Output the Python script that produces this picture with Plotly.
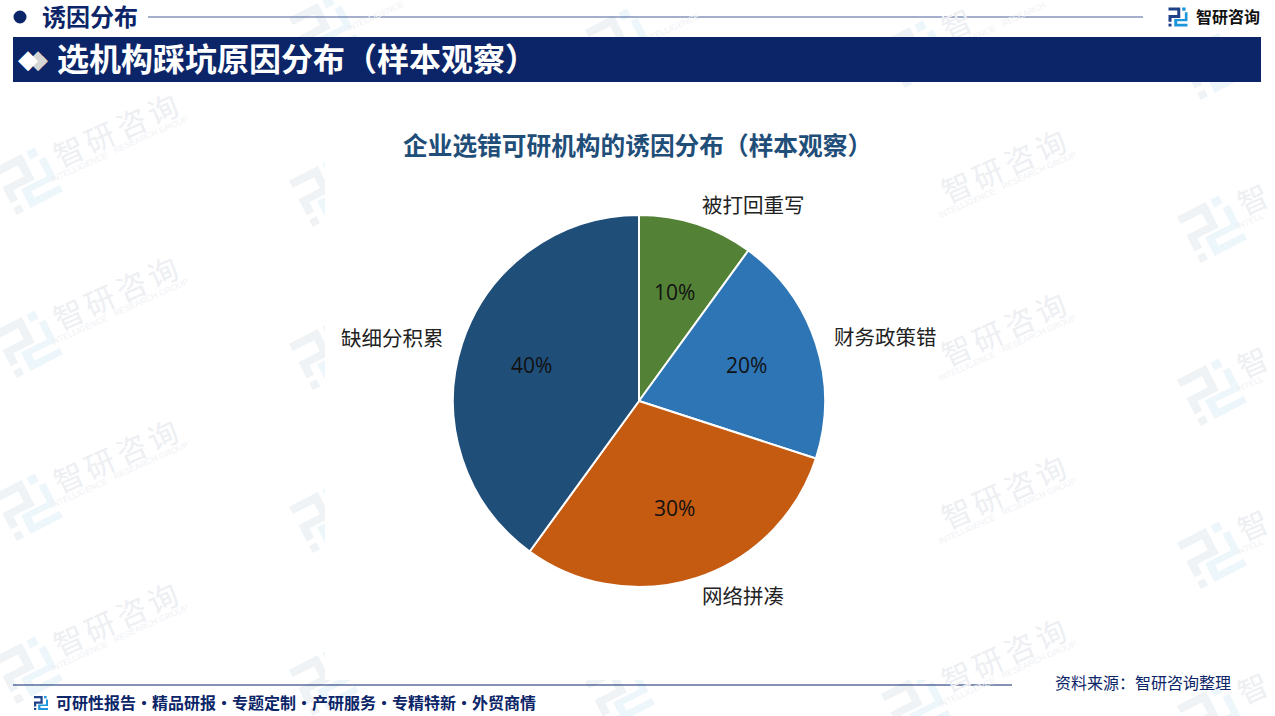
import math
import plotly.graph_objects as go

categories = ["被打回重写", "财务政策错", "网络拼凑", "缺细分积累"]
shares = [10, 20, 30, 40]
slice_colors = ["#538135", "#2E75B6", "#C55A11", "#1F4E79"]
footer_items = ["可研性报告", "精品研报", "专题定制", "产研服务", "专精特新", "外贸商情"]

W = 1275
H = 716
NAVY = "#0B2568"
CJK = "Noto Sans CJK SC"

# pie geometry in pixels
PIE_CX = 639
PIE_CY = 401
PIE_R = 186
PCT_RADIUS = 0.61

# pixel centres of the outer labels, same order as categories
outer_label_xy = [(753, 204), (885, 336), (743, 595), (392, 337)]

# watermark tile grid
TILE_X0 = 28
TILE_Y0 = 17
TILE_DX = 296
TILE_SKEW = 12
TILE_DY = 163
TILT = -27
TEXT_TILT = -24

# logo polygons in a unit box, dark part then light part
logo_dark = [
    [(0, 0), (0.62, 0), (0.62, 0.55), (0.16, 0.55), (0.16, 0.75), (0, 0.75), (0, 0.4), (0.46, 0.4), (0.46, 0.16), (0, 0.16)],
    [(0, 0.85), (0.16, 0.85), (0.16, 1), (0, 1)],
]
logo_light = [
    [(0.72, 0), (0.9, 0), (0.9, 0.17), (0.72, 0.17)],
    [(0.86, 0.25), (1, 0.25), (1, 0.72), (0.46, 0.72), (0.46, 0.86), (1, 0.86), (1, 1), (0.3, 1), (0.3, 0.6), (0.86, 0.6)],
]


def px(x):
    return x / W


def py(y):
    return 1 - y / H


def poly_path(points, cx, cy, size, angle):
    a = math.radians(angle)
    out = []
    for ux, uy in points:
        dx = (ux - 0.5) * size
        dy = (uy - 0.5) * size
        out.append((cx + dx * math.cos(a) - dy * math.sin(a), cy + dx * math.sin(a) + dy * math.cos(a)))
    return "M" + "L".join(f"{px(x):.5f},{py(y):.5f}" for x, y in out) + "Z"


def logo_shapes(cx, cy, size, angle, dark, light, layer):
    shapes = []
    for polys, color in ((logo_dark, dark), (logo_light, light)):
        for p in polys:
            shapes.append(dict(type="path", xref="paper", yref="paper", path=poly_path(p, cx, cy, size, angle),
                               fillcolor=color, line_width=0, layer=layer))
    return shapes


def box(x0, y0, x1, y1, color, layer="below"):
    return dict(type="rect", xref="paper", yref="paper", x0=px(x0), x1=px(x1), y0=py(y0), y1=py(y1),
                fillcolor=color, line_width=0, layer=layer)


def label(x, y, text, size, color, bold=False, anchor="center", angle=0, family=CJK):
    if bold:
        text = f"<b>{text}</b>"
    return dict(xref="paper", yref="paper", x=px(x), y=py(y), text=text, showarrow=False, xanchor=anchor,
                yanchor="middle", textangle=angle, font=dict(family=family, size=size, color=color))


def visible(x, y, half):
    # annotations sit on top of everything, so drop the pieces the panel or page edge would hide
    if x - half < 0 or x + half > W or y - half < 0 or y + half > H:
        return False
    if y + half > 50 and y - half < 70:
        return False
    if 325 - half < x < 945 and 118 - half < y < 680 + half:
        return False
    if x > 1150 and y < 37:
        return False
    return True


shapes = []
annotations = []

# watermark tiles
a = math.radians(TEXT_TILT)
for col in range(5):
    for row in range(6):
        if col == 0 and row == 0:
            continue
        lx = TILE_X0 + col * TILE_DX
        ly = TILE_Y0 + col * TILE_SKEW + row * TILE_DY
        shapes += logo_shapes(lx, ly, 52, TILT, "#F0F3F6", "#EDF6FB", "below")
        for i, ch in enumerate("智研咨询"):
            x = lx + 87 + (i - 1.5) * 34 * math.cos(a)
            y = ly - 51 + (i - 1.5) * 34 * math.sin(a)
            if visible(x, y, 14):
                annotations.append(label(x, y, ch, 30, "#EDEFF3", angle=TEXT_TILT))
        # the last column runs off the page, so it only shows the start of the line
        words = ((-63, "INTELL"),) if col == 4 else ((-48, "INTELLIGENCE"), (14, "RESEARCH"), (56, "GROUP"))
        for offset, word in words:
            x = lx + 95 + offset * math.cos(a)
            y = ly - 33 + offset * math.sin(a)
            if visible(x, y, 10):
                annotations.append(label(x, y, word, 8.5, "#F0F2F5", angle=TEXT_TILT, family="Liberation Sans"))

# white panel behind the chart, then the header furniture
shapes.append(box(325, 118, 950, 680, "white"))
shapes.append(dict(type="circle", xref="paper", yref="paper", x0=px(13.5), x1=px(26.5), y0=py(10.5), y1=py(23.5),
                   fillcolor=NAVY, line_width=0, layer="below"))
shapes.append(dict(type="line", xref="paper", yref="paper", x0=px(148), x1=px(1143), y0=py(17), y1=py(17),
                   line=dict(color="#4A6199", width=1.2), layer="below"))
shapes.append(dict(type="line", xref="paper", yref="paper", x0=px(13), x1=px(1012), y0=py(685), y1=py(685),
                   line=dict(color=NAVY, width=1), layer="below"))
shapes += logo_shapes(1178, 17, 19, 0, "#21408A", "#1E96DC", "below")
shapes += logo_shapes(41, 703, 14, 0, "#21408A", "#1E96DC", "below")

# the band is an annotation so it covers the watermark text that runs under it
annotations.append(dict(xref="paper", yref="paper", x=px(13), y=py(59.5), text="&nbsp;", showarrow=False,
                        xanchor="left", yanchor="middle", width=1248, height=45, bgcolor=NAVY, borderpad=0,
                        borderwidth=0, font=dict(size=10, color=NAVY)))
for cx, color in ((38, "#D6D6D6"), (28, "#FFFFFF")):
    annotations.append(label(cx, 59, "◆", 26, color, family="DejaVu Sans"))

annotations += [
    label(40, 16, "诱因分布", 24, NAVY, bold=True, anchor="left"),
    label(55, 57, "选机构踩坑原因分布（样本观察）", 32, "white", bold=True, anchor="left"),
    label(401, 144, "企业选错可研机构的诱因分布（样本观察）", 24.7, "#1F4E79", bold=True, anchor="left"),
    label(1194, 16, "智研咨询", 16, "#111111", bold=True, anchor="left"),
    label(54, 702, "·".join(footer_items), 16, NAVY, bold=True, anchor="left"),
    label(1053, 682, "资料来源：智研咨询整理", 16, NAVY, anchor="left"),
]

# category names and percent labels, percent placed from the slice mid angle
total = sum(shares)
running = 0
for name, value, (lx, ly) in zip(categories, shares, outer_label_xy):
    mid = 2 * math.pi * (running + value / 2) / total
    running += value
    annotations.append(label(lx, ly, name, 20.5, "#222222"))
    annotations.append(label(PIE_CX + PCT_RADIUS * PIE_R * math.sin(mid), PIE_CY - 1 - PCT_RADIUS * PIE_R * math.cos(mid),
                             f"{value / total:.0%}", 21, "#111111", family="Open Sans"))

fig = go.Figure(go.Pie(
    labels=categories,
    values=shares,
    sort=False,
    direction="clockwise",
    rotation=0,
    marker=dict(colors=slice_colors, line=dict(color="white", width=2)),
    textinfo="none",
    hoverinfo="label+percent",
    showlegend=False,
    domain=dict(x=[px(PIE_CX - PIE_R), px(PIE_CX + PIE_R)], y=[py(PIE_CY + PIE_R), py(PIE_CY - PIE_R)]),
))
fig.update_layout(
    width=W,
    height=H,
    margin=dict(l=0, r=0, t=0, b=0),
    paper_bgcolor="white",
    shapes=shapes,
    annotations=annotations,
)
fig.write_html("out.html", config=dict(displayModeBar=False), post_script="document.body.style.margin='0';")
